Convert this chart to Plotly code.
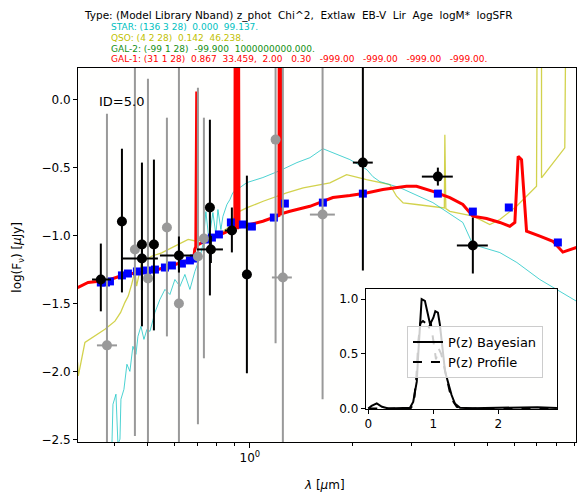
import plotly.graph_objects as go

# ---------------- data ----------------
# Best-fit galaxy template (GAL-1), wavelength [um] and log flux
red_lam = [0.311, 0.334, 0.382, 0.4287, 0.480, 0.5362, 0.6016, 0.6736, 0.6842, 0.688, 0.693,
           0.6945, 0.6975, 0.699, 0.7523, 0.8442, 0.8913, 0.903, 0.905, 0.908, 0.910, 0.920,
           0.923, 0.926, 0.929, 0.9537, 1.092, 1.1984, 1.218, 1.220, 1.230, 1.232, 1.3113,
           1.5021, 1.755, 1.9697, 2.2048, 2.4623, 2.8923, 3.0945, 3.4567, 3.8781, 4.235,
           4.5324, 4.9736, 5.4426, 5.8236, 6.0256, 6.162, 6.3055, 6.5226, 7.1368, 7.7965,
           8.3428, 9.1516]
red_val = [-1.381, -1.343, -1.326, -1.284, -1.267, -1.247, -1.211, -1.174, -1.159, -1.10, -1.08,
           0.06, 0.06, -1.07, -1.027, -0.976, -0.946, -0.94, 0.5, 0.5, -0.94, -0.94,
           0.5, 0.5, -0.935, -0.930, -0.893, -0.856, -0.85, 0.5, 0.5, -0.84, -0.820,
           -0.783, -0.719, -0.704, -0.685, -0.660, -0.636, -0.636, -0.673, -0.719, -0.770,
           -0.856, -0.873, -0.902, -0.930, -0.902, -0.416, -0.440, -0.966, -1.003, -1.040,
           -1.120, -1.086]

# Star template
star_lam = [0.3926, 0.3953, 0.4034, 0.4089, 0.4145, 0.4173, 0.4258, 0.4345, 0.4434, 0.4525,
            0.4619, 0.4682, 0.4778, 0.4877, 0.4977, 0.5079, 0.5254, 0.5435, 0.5622, 0.5815,
            0.6016, 0.6223, 0.6437, 0.6659, 0.6888, 0.7127, 0.7273, 0.7422, 0.7574, 0.7782,
            0.7942, 0.8051, 0.8217, 0.8328, 0.8558, 0.8732, 0.8913, 0.9799, 1.092, 1.2254,
            1.3756, 1.5021, 1.640, 1.9697, 2.2096, 2.3013, 2.4129, 2.7635, 3.4567, 4.235,
            4.5324, 5.4426, 6.1078, 7.1368, 9.17]
star_val = [-2.531, -2.238, -2.164, -2.531, -2.494, -2.201, -2.128, -1.944, -1.996, -1.812,
            -1.871, -1.739, -1.665, -1.761, -1.687, -1.702, -1.563, -1.467, -1.394, -1.431,
            -1.321, -1.372, -1.284, -1.394, -1.262, -1.159, -1.064, -0.822, -1.027, -0.829,
            -0.990, -0.807, -0.954, -0.858, -0.770, -0.734, -0.682, -0.609, -0.572, -0.521,
            -0.462, -0.426, -0.360, -0.440, -0.514, -0.565, -0.602, -0.646, -0.756, -0.902,
            -1.064, -1.123, -1.196, -1.321, -1.482]

# QSO template
qso_lam = [0.311, 0.3125, 0.3269, 0.3498, 0.3744, 0.4007, 0.4164, 0.4287, 0.4384, 0.4487,
           0.4587, 0.4639, 0.480, 0.5136, 0.550, 0.6016, 0.6582, 0.6969, 0.798, 0.8732,
           0.9139, 0.9779, 1.0942, 1.2823, 1.4355, 1.7198, 1.9262, 2.2048, 2.5823, 2.7022,
           2.8262, 3.0945, 3.4629, 3.7059, 3.736, 3.749, 3.774, 3.8781, 4.5418, 5.0859,
           5.4426, 6.0952, 6.9794, 7.008, 7.219, 7.2195, 8.453, 8.511, 9.17]
qso_val = [-1.93, -2.03, -1.783, -1.737, -1.687, -1.627, -1.563, -1.489, -1.443, -1.357,
           -1.260, -1.370, -1.198, -1.150, -1.125, -1.076, -1.027, -1.040, -1.003, -0.930,
           -0.831, -0.795, -0.746, -0.685, -0.648, -0.611, -0.550, -0.587, -0.624, -0.709,
           -0.758, -0.770, -0.783, -0.795, -0.795, -0.257, -0.800, -0.820, -0.856, -0.917,
           -0.880, -0.783, -0.636, 0.6, 0.6, -0.574, -0.354, 0.6, 0.6]

# Model photometry (blue squares)
mod_lam = [0.3641, 0.377, 0.3873, 0.4201, 0.4375, 0.465, 0.4977, 0.5254, 0.5622, 0.5895,
           0.6308, 0.6659, 0.6842, 0.7373, 0.773, 0.8106, 0.8792, 0.9537, 1.0137, 1.1765,
           1.2677, 1.640, 2.1507, 3.5759, 4.5324, 5.7837, 8.0651]
mod_val = [-1.343, -1.343, -1.335, -1.291, -1.277, -1.262, -1.255, -1.248, -1.233, -1.218,
           -1.204, -1.181, -1.167, -1.027, -1.013, -0.990, -0.902, -0.917, -0.932, -0.866,
           -0.763, -0.756, -0.690, -0.690, -0.822, -0.792, -1.049]

# Observed photometry (black): value, lower/upper bounds in y and x
obs_lam = [0.3641, 0.4201, 0.4811, 0.5218, 0.4811, 0.6182, 0.7626, 0.7677, 0.8851, 0.9799,
           2.1507, 3.5759, 4.5324]
obs_val = [-1.321, -0.895, -1.064, -1.064, -1.167, -1.145, -0.792, -1.100, -0.961, -1.284,
           -0.462, -0.565, -1.071]
obs_ylo = [-1.555, -1.416, -1.40, -1.695, -1.665, -1.270, -1.438, -1.20, -1.122, -2.010,
           -1.255, -0.631, -1.277]
obs_yhi = [-1.057, -0.360, -0.462, -0.440, -1.05, -1.005, -0.147, -1.00, -0.792, -0.558,
           0.300, -0.499, -0.866]
obs_xlo = [0.343, 0.4201, 0.4811, 0.5218, 0.4201, 0.5435, 0.7626, 0.698, 0.844, 0.9799,
           2.010, 3.208, 4.067]
obs_xhi = [0.390, 0.4201, 0.4811, 0.5218, 0.536, 0.680, 0.7626, 0.833, 0.916, 0.9799,
           2.300, 3.957, 5.017]

# Observed photometry, low S/N (grey)
grey_lam = [0.3795, 0.4587, 0.5011, 0.5698, 0.6182, 0.7031, 0.7322, 1.1902, 1.2505, 1.6368]
grey_val = [-1.805, -1.100, -1.313, -0.939, -1.497, -1.152, -1.020, -0.293, -1.306, -0.844]
grey_ylo = [-2.60, -2.47, -2.60, -1.739, -2.60, -2.384, -1.900, -1.790, -2.60, -2.200]
grey_yhi = [-0.103, 0.30, 0.154, -0.132, 0.30, 0.088, -0.132, 0.30, 0.30, 0.30]
grey_xlo = [0.3546, 0.4587, 0.5011, 0.5698, 0.6182, 0.7031, 0.7322, 1.1902, 1.161, 1.502]
grey_xhi = [0.4062, 0.4587, 0.5011, 0.5698, 0.6182, 0.7031, 0.7322, 1.1902, 1.329, 1.779]

# P(z) inset
pz_z = [0.0, 0.05, 0.13, 0.21, 0.31, 0.64, 0.69, 0.745, 0.77, 0.795, 0.82, 0.87, 0.90, 0.95,
        1.0, 1.03, 1.07, 1.10, 1.14, 1.18, 1.23, 1.28, 1.33, 1.41, 1.6, 2.0, 2.3, 2.6, 2.9]
pz_bay = [0.0, 0.024, 0.046, 0.015, 0.0, 0.006, 0.06, 0.245, 0.52, 0.77, 1.0, 0.984, 0.89, 0.77,
          0.83, 0.89, 0.877, 0.77, 0.554, 0.338, 0.23, 0.123, 0.046, 0.006, 0.002, 0.004,
          0.012, 0.012, 0.005]
prof_z = [0.0, 0.65, 0.70, 0.74, 0.77, 0.80, 0.84, 0.88, 0.92, 0.96, 1.00, 1.04, 1.08, 1.12,
          1.16, 1.20, 1.25, 1.30, 1.36, 1.45, 2.9]
prof_p = [0.0, 0.0, 0.05, 0.30, 0.62, 0.78, 0.80, 0.78, 0.72, 0.78, 0.62, 0.45, 0.55, 0.50,
          0.40, 0.28, 0.16, 0.07, 0.015, 0.0, 0.0]

# text
title_txt = "Type: (Model Library Nband) z_phot  Chi^2,  Extlaw  EB-V  Lir  Age  logM*  logSFR"
info_lines = [
    ("STAR: (136 3 28)  0.000  99.137.", "#00bfbf"),
    ("QSO: (4 2 28)  0.142  46.238.", "#bfbf00"),
    ("GAL-2: (-99 1 28)  -99.900  1000000000.000.", "#138f13"),
    ("GAL-1: (31 1 28)  0.867  33.459,  2.00   0.30   -999.00   -999.00   -999.00   -999.00.", "#ff0000"),
]


def keep_spaces(s):
    return s.replace(" ", "\u00a0")


# ---------------- figure ----------------
FONT = "DejaVu Sans"
fig = go.Figure()

fig.add_trace(go.Scatter(x=qso_lam, y=qso_val, mode="lines",
                         line=dict(color="rgba(191,191,0,0.7)", width=1.3), showlegend=False))
fig.add_trace(go.Scatter(x=star_lam, y=star_val, mode="lines",
                         line=dict(color="rgba(0,191,191,0.7)", width=1), showlegend=False))
fig.add_trace(go.Scatter(x=red_lam, y=red_val, mode="lines",
                         line=dict(color="#ff0000", width=3), showlegend=False))
fig.add_trace(go.Scatter(x=mod_lam, y=mod_val, mode="markers",
                         marker=dict(symbol="square", size=8, color="#0000ff"), showlegend=False))


def err_trace(lam, val, ylo, yhi, xlo, xhi, color):
    return go.Scatter(
        x=lam, y=val, mode="markers",
        marker=dict(size=10, color=color),
        error_y=dict(type="data", symmetric=False,
                     array=[h - v for h, v in zip(yhi, val)],
                     arrayminus=[v - l for l, v in zip(ylo, val)],
                     color=color, thickness=2, width=0),
        error_x=dict(type="data", symmetric=False,
                     array=[h - v for h, v in zip(xhi, lam)],
                     arrayminus=[v - l for l, v in zip(xlo, lam)],
                     color=color, thickness=2, width=0),
        showlegend=False)


fig.add_trace(err_trace(grey_lam, grey_val, grey_ylo, grey_yhi, grey_xlo, grey_xhi, "#999999"))
fig.add_trace(err_trace(obs_lam, obs_val, obs_ylo, obs_yhi, obs_xlo, obs_xhi, "#000000"))

# inset
fig.add_trace(go.Scatter(x=pz_z, y=pz_bay, mode="lines", name="P(z) Bayesian",
                         line=dict(color="black", width=2), xaxis="x2", yaxis="y2"))
fig.add_trace(go.Scatter(x=prof_z, y=prof_p, mode="lines", name="P(z) Profile",
                         line=dict(color="black", width=2, dash="dash"), xaxis="x2", yaxis="y2"))

axis_common = dict(showline=True, linecolor="black", linewidth=1, mirror=True,
                   showgrid=False, zeroline=False, ticks="outside", tickcolor="black",
                   tickfont=dict(family=FONT, size=12, color="black"))

fig.update_layout(
    width=586, height=504,
    margin=dict(l=78, r=10, t=68, b=62),
    paper_bgcolor="white", plot_bgcolor="#fffffe",
    font=dict(family=FONT, size=12, color="black"),
    xaxis=dict(type="log", range=[-0.506, 0.96], tickvals=[1], ticktext=["10<sup>0</sup>"],
               ticklen=5, minor=dict(tickvals=[0.4, 0.5, 0.6, 0.7, 0.8, 0.9, 2, 3, 4, 5, 6, 7, 8, 9],
                                     ticks="outside", ticklen=3, tickcolor="black"),
               **axis_common),
    yaxis=dict(range=[-2.515, 0.233], tickvals=[-2.5, -2.0, -1.5, -1.0, -0.5, 0.0],
               tickformat=".1f", ticklen=4, **axis_common),
    xaxis2=dict(domain=[0.5777, 0.9618], anchor="y2", range=[-0.04, 2.9],
                tickvals=[0, 1, 2], ticklen=4, **axis_common),
    yaxis2=dict(domain=[0.0882, 0.4083], anchor="x2", range=[-0.005, 1.09],
                tickvals=[0.0, 0.5, 1.0], tickformat=".1f", ticklen=4, **axis_common),
    legend=dict(x=0.6606, y=0.310, xanchor="left", yanchor="top",
                bgcolor="rgba(255,255,255,0.8)", bordercolor="#cccccc", borderwidth=1,
                font=dict(family=FONT, size=13, color="black"), tracegroupgap=0,
                itemwidth=30),
)

ann = []
ann.append(dict(text=keep_spaces(title_txt), x=0.0074, y=1.1417, xref="paper", yref="paper",
                xanchor="left", yanchor="middle", showarrow=False,
                font=dict(family=FONT, size=10.5, color="black")))
ys = [1.1096, 1.0802, 1.0508, 1.0241]
for (t, c), yy in zip(info_lines, ys):
    ann.append(dict(text=keep_spaces(t), x=0.0629, y=yy, xref="paper", yref="paper",
                    xanchor="left", yanchor="middle", showarrow=False,
                    font=dict(family=FONT, size=9, color=c)))
ann.append(dict(text="ID=5.0", x=0.0375, y=0.910, xref="paper", yref="paper",
                xanchor="left", yanchor="middle", showarrow=False,
                font=dict(family=FONT, size=13, color="black")))
ann.append(dict(text="log(F<sub>ν</sub>) [<i>μ</i>Jy]", x=-0.1205, y=0.4955, xref="paper",
                yref="paper", xanchor="center", yanchor="middle", textangle=-90,
                showarrow=False, font=dict(family=FONT, size=12, color="black")))
ann.append(dict(text="<i>λ</i> [<i>μ</i>m]", x=0.494, y=-0.115, xref="paper", yref="paper",
                xanchor="center", yanchor="middle", showarrow=False,
                font=dict(family=FONT, size=12, color="black")))
fig.update_layout(annotations=ann)

fig.write_html("out.html")
